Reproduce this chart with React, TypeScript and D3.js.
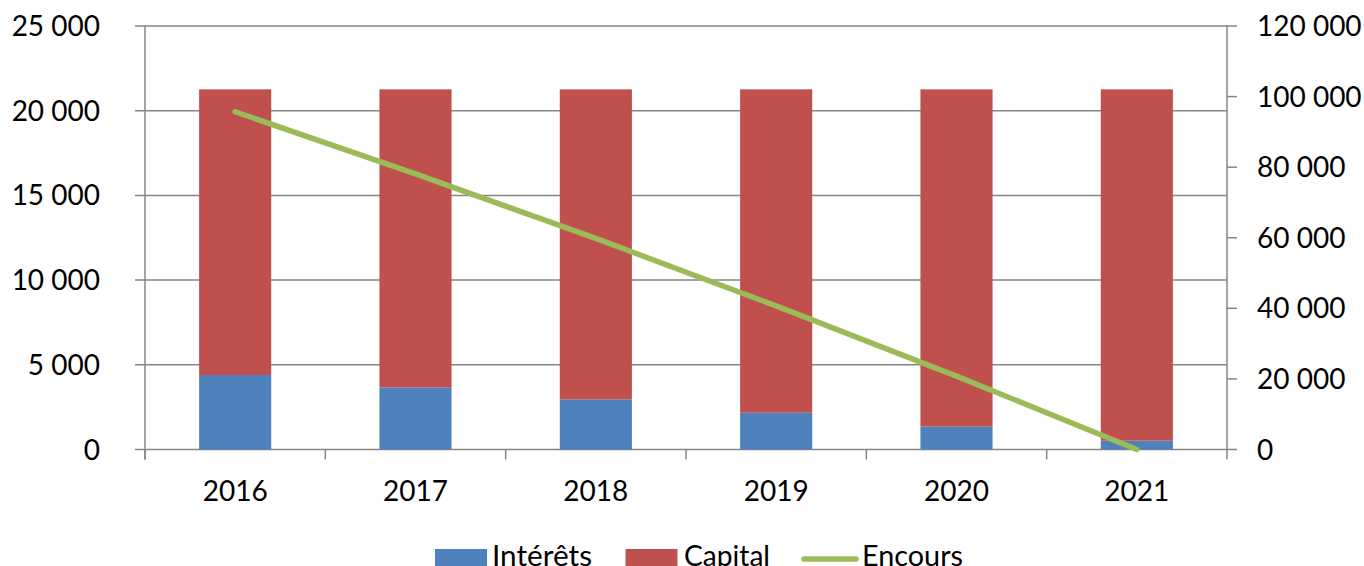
import React from "react";
import * as d3 from "d3";

const categories = ["2016", "2017", "2018", "2019", "2020", "2021"];
const interets = [4400, 3670, 2960, 2170, 1350, 520];
const capital = [16860, 17590, 18300, 19090, 19910, 20740];
const encours = [95700, 78100, 59800, 40700, 20800, 0];
const leftTicks = [0, 5000, 10000, 15000, 20000, 25000];
const rightTicks = [0, 20000, 40000, 60000, 80000, 100000, 120000];
const seriesNames = ["Intérêts", "Capital", "Encours"];

const W = 1364, H = 566;
const L = 145, R = 1227, T = 26, B = 449.5;
const FONT = "Lato, 'Open Sans', sans-serif";
const GRID = "#868686";
const BLUE = "#4F81BD", RED = "#C0504D", GREEN = "#9BBB59";

const fmt = (v: number) => {
  const s = String(v);
  return s.replace(/\B(?=(\d{3})+(?!\d))/g, " ");
};

export default function App() {
  const x = d3.scaleBand<string>().domain(categories).range([L, R]).paddingInner(0.6).paddingOuter(0.3);
  const xb = d3.scaleBand<string>().domain(categories).range([L, R]);
  const yL = d3.scaleLinear().domain([0, 25000]).range([B, T]);
  const yR = d3.scaleLinear().domain([0, 120000]).range([B, T]);
  const stack = d3.stack<number>().keys(["i", "c"]).value((d, k) => (k === "i" ? interets[d] : capital[d]));
  const layers = stack(categories.map((_, i) => i));
  const colors = [BLUE, RED];
  const line = d3.line<number>().x((_, i) => xb(categories[i])! + xb.bandwidth() / 2).y((d) => yR(d));

  return (
    <svg width={W} height={H} style={{ position: "absolute", left: 0, top: 0, background: "#fff" }} fontFamily={FONT}>
      {leftTicks.map((t) => (
        <g key={"l" + t}>
          <line x1={L - 10} x2={R} y1={yL(t)} y2={yL(t)} stroke={GRID} strokeWidth={1.5} />
          <text x={100} y={yL(t)} dy="0.36em" textAnchor="end" fontSize={28} fill="#000">{fmt(t)}</text>
        </g>
      ))}
      <line x1={L} x2={L} y1={T} y2={B + 10} stroke={GRID} strokeWidth={1.5} />
      <line x1={R} x2={R} y1={T} y2={B + 10} stroke={GRID} strokeWidth={1.5} />
      {rightTicks.map((t) => (
        <g key={"r" + t}>
          <line x1={R} x2={R + 10} y1={yR(t)} y2={yR(t)} stroke={GRID} strokeWidth={1.5} />
          <text x={1257} y={yR(t)} dy="0.36em" textAnchor="start" fontSize={28} fill="#000">{fmt(t)}</text>
        </g>
      ))}
      {categories.map((c) => (
        <line key={"t" + c} x1={xb(c)!} x2={xb(c)!} y1={B} y2={B + 10} stroke={GRID} strokeWidth={1.5} />
      ))}
      {layers.map((layer, li) =>
        layer.map((d, i) => (
          <rect key={li + "-" + i} x={x(categories[i])!} width={x.bandwidth()} y={yL(d[1])} height={yL(d[0]) - yL(d[1])} fill={colors[li]} />
        ))
      )}
      <path d={line(encours)!} fill="none" stroke={GREEN} strokeWidth={5.5} strokeLinecap="round" strokeLinejoin="round" />
      {categories.map((c) => (
        <text key={"x" + c} x={xb(c)! + xb.bandwidth() / 2} y={501} textAnchor="middle" fontSize={28} fill="#000">{c}</text>
      ))}
      <g>
        <rect x={435} y={549} width={52} height={20} fill={BLUE} />
        <text x={492} y={566} fontSize={29} fill="#000" textLength={100} lengthAdjust="spacingAndGlyphs">{seriesNames[0]}</text>
        <rect x={625.5} y={549} width={52} height={20} fill={RED} />
        <text x={684} y={566} fontSize={29} fill="#000" textLength={86} lengthAdjust="spacingAndGlyphs">{seriesNames[1]}</text>
        <line x1={804} x2={856} y1={559} y2={559} stroke={GREEN} strokeWidth={5.5} strokeLinecap="round" />
        <text x={862} y={566} fontSize={29} fill="#000" textLength={101} lengthAdjust="spacingAndGlyphs">{seriesNames[2]}</text>
      </g>
    </svg>
  );
}
